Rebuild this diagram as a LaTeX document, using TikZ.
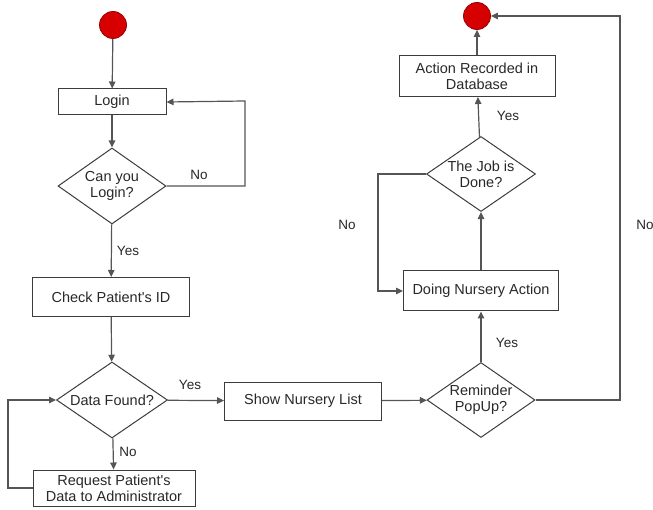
\documentclass[tikz,border=0pt]{standalone}
\usepackage{fontspec}
\setmainfont[Ligatures=TeXOff]{Liberation Sans}
\usetikzlibrary{shapes.geometric,arrows.meta}
\definecolor{linegray}{RGB}{85, 85, 85}
\definecolor{boxgray}{RGB}{60, 60, 60}
\definecolor{textgray}{RGB}{40, 40, 40}
\definecolor{dotred}{RGB}{215, 0, 0}
\definecolor{dotedge}{RGB}{150, 0, 0}

\begin{document}
\begin{tikzpicture}[x=1pt, y=-1pt,
    every node/.style={font=\fontsize{14.5}{16}\selectfont, text=textgray, align=center},
    actbox/.style={draw=boxgray, line width=1pt, inner sep=0pt},
    choice/.style={draw=boxgray, line width=1pt, diamond, inner sep=-6pt},
    dot/.style={circle, fill=dotred, draw=dotedge, line width=0.8pt, minimum size=27pt, inner sep=0pt},
    flow/.style={draw=linegray, line width=1.2pt, -{Triangle[length=7pt,width=6.5pt]}},
    lbl/.style={font=\fontsize{13.5}{15}\selectfont}]
      \useasboundingbox (0,0) rectangle (653,510);

      % Left column
      \node[dot] (start) at (113,25) {};
      \node[actbox, minimum width=108pt, minimum height=26pt] (login) at (112,102) {Login};
      \node[choice, minimum width=108pt, minimum height=76pt] (canlogin) at (112,186) {Can you\\Login?};
      \node[actbox, minimum width=157pt, minimum height=39pt] (check) at (111,297) {Check Patient's ID};
      \node[choice, minimum width=111pt, minimum height=76pt] (found) at (112,400) {Data Found?};
      \node[actbox, minimum width=162pt, minimum height=36pt] (request) at (114,488) {Request Patient's\\Data to Administrator};

      % Middle and right column
      \node[actbox, minimum width=157pt, minimum height=38pt] (list) at (303,401) {Show Nursery List};
      \node[choice, minimum width=108pt, minimum height=75pt] (reminder) at (481,400) {Reminder\\PopUp?};
      \node[actbox, minimum width=155pt, minimum height=40pt] (doing) at (481,291) {Doing Nursery Action};
      \node[choice, minimum width=109pt, minimum height=75pt] (done) at (481,174) {The Job is\\Done?};
      \node[actbox, minimum width=156pt, minimum height=41pt] (record) at (477,76) {Action Recorded in\\Database};
      \node[dot] (stop) at (477,16) {};

      % Corners of the loops
      \coordinate (c1) at (245,186);
      \coordinate (c2) at (245,101);
      \coordinate (c3) at (8,488);
      \coordinate (c4) at (8,400);
      \coordinate (c5) at (620,400);
      \coordinate (c6) at (620,16);
      \coordinate (c7) at (378,174);
      \coordinate (c8) at (378,291);

      % Connectors
      \draw[flow] (start) -- (login);
      \draw[flow] (login) -- (canlogin);
      \draw[flow] (canlogin.east) -- (c1) -- (c2) -- (login.east);
      \draw[flow] (canlogin) -- (check);
      \draw[flow] (check) -- (found);
      \draw[flow] (found) -- (list);
      \draw[flow] (found) -- (request);
      \draw[flow] (request.west |- c3) -- (c3) -- (c4) -- (found.west);
      \draw[flow] (list) -- (reminder);
      \draw[flow] (reminder) -- (doing);
      \draw[flow] (reminder.east) -- (c5) -- (c6) -- (stop.east);
      \draw[flow] (doing) -- (done);
      \draw[flow] (done.west) -- (c7) -- (c8) -- (doing.west);
      \draw[flow] (done) -- (record);
      \draw[flow] (record) -- (stop);

      % Labels
      \node[lbl] (nologin) at (199,175) {No};
      \node[lbl] (yeslogin) at (128,251) {Yes};
      \node[lbl] (yesfound) at (190,385) {Yes};
      \node[lbl] (nofound) at (128,452) {No};
      \node[lbl] (yesremind) at (507,343) {Yes};
      \node[lbl] (noremind) at (645,225) {No};
      \node[lbl] (nodone) at (347,225) {No};
      \node[lbl] (yesdone) at (508,116) {Yes};
\end{tikzpicture}
\end{document}
